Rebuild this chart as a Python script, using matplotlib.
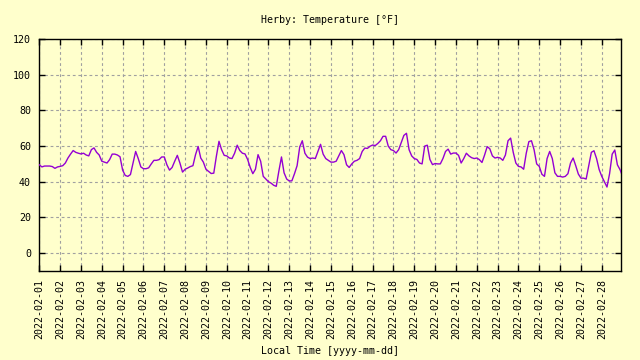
import numpy as np
import pandas as pd
import matplotlib
matplotlib.use("Agg")
import matplotlib.pyplot as plt
import matplotlib.dates as mdates

# 3-hourly temperature readings (°F), Feb 1 00:00 .. Feb 28 21:00
temps_f = [
    49.5, 48.3, 48.8, 48.8, 48.8, 48.5, 47.5, 48.3,   # 02-01
    48.6, 49.0, 50.5, 53.3, 55.5, 57.5, 56.5, 56.0,   # 02-02
    55.6, 56.0, 55.0, 54.5, 58.0, 59.0, 56.5, 55.0,   # 02-03
    51.5, 51.0, 50.5, 52.4, 55.5, 55.5, 55.0, 54.0,   # 02-04
    46.5, 43.5, 43.0, 44.0, 50.5, 57.0, 53.0, 48.3,   # 02-05
    47.3, 47.3, 47.8, 50.0, 52.0, 52.0, 52.4, 53.9,   # 02-06
    53.9, 49.5, 46.5, 48.0, 51.5, 54.8, 50.5, 45.4,   # 02-07
    47.0, 47.7, 48.5, 49.0, 55.2, 59.8, 53.3, 51.0,   # 02-08
    47.0, 45.8, 44.6, 44.8, 54.3, 62.7, 58.0, 54.8,   # 02-09
    54.5, 53.3, 53.0, 56.0, 60.5, 57.5, 56.0, 55.6,   # 02-10
    52.5, 48.0, 44.5, 47.0, 55.2, 51.5, 43.0, 41.5,   # 02-11
    40.0, 39.2, 38.0, 37.4, 46.0, 53.9, 45.0, 41.5,   # 02-12
    40.4, 40.5, 44.5, 49.0, 59.5, 63.0, 56.0, 53.8,   # 02-13
    53.0, 53.3, 53.0, 57.0, 61.0, 55.5, 53.0, 52.0,   # 02-14
    51.0, 51.0, 51.5, 54.5, 57.5, 55.2, 49.5, 48.0,   # 02-15
    50.0, 51.5, 52.0, 53.0, 57.0, 58.9, 58.7, 59.9,   # 02-16
    60.6, 60.3, 61.5, 63.0, 65.5, 65.5, 60.0, 58.0,   # 02-17
    57.5, 56.1, 58.0, 62.0, 66.0, 67.2, 58.0, 54.5,   # 02-18
    53.0, 52.5, 50.5, 50.0, 60.0, 60.5, 52.5, 49.6,   # 02-19
    50.2, 50.0, 50.0, 53.0, 57.0, 58.3, 55.5, 56.1,   # 02-20
    56.1, 54.8, 50.5, 53.0, 56.0, 54.5, 53.5, 53.0,   # 02-21
    53.3, 52.4, 50.8, 55.0, 59.7, 58.5, 54.5, 53.3,   # 02-22
    53.7, 53.3, 52.0, 55.0, 63.0, 64.5, 56.5, 50.5,   # 02-23
    48.6, 48.3, 47.0, 56.0, 62.5, 63.0, 58.0, 50.0,   # 02-24
    48.6, 44.2, 43.0, 53.0, 57.0, 53.0, 45.0, 43.0,   # 02-25
    43.0, 42.6, 43.0, 44.5, 50.5, 53.3, 49.0, 44.3,   # 02-26
    42.0, 42.0, 41.5, 49.0, 56.5, 57.4, 53.0, 46.8,   # 02-27
    43.0, 40.0, 37.0, 44.5, 55.5, 57.8, 49.5, 46.8,   # 02-28
]
last_time = "2022-02-28 22:30"
last_temp = 44.9

start = "2022-02-01 00:00"
times = list(pd.date_range(start, periods=len(temps_f), freq="3h")) + [pd.Timestamp(last_time)]
values = temps_f + [last_temp]

day_ticks = pd.date_range("2022-02-01", "2022-02-28", freq="D")
y_ticks = [0, 20, 40, 60, 80, 100, 120]

title = "Herby: Temperature [°F]"
xlabel = "Local Time [yyyy-mm-dd]"

bg = "#ffffcc"
line_color = "#9400d3"
font = "DejaVu Sans Mono"
fs = 7.2

plt.rcParams["font.family"] = [font, "DejaVu Sans"]

fig = plt.figure(figsize=(6.4, 3.6), dpi=100, facecolor=bg)
ax = fig.add_axes([39.3 / 640, 1 - 270.7 / 360, (621.3 - 39.3) / 640, (270.7 - 39.3) / 360])
ax.set_facecolor(bg)

ax.plot(times, values, color=line_color, lw=1.0, zorder=3)

ax.set_xlim(pd.Timestamp(start), pd.Timestamp(last_time))
ax.set_ylim(-10, 120)
ax.set_yticks(y_ticks)
ax.set_xticks(day_ticks)
ax.xaxis.set_major_formatter(mdates.DateFormatter("%Y-%m-%d"))

ax.grid(True, color="#a0a0a0", linestyle=(0, (2.5, 2.5)), linewidth=0.8)
ax.set_axisbelow(True)

ax.tick_params(axis="both", direction="in", length=4, width=1, color="black",
               labelsize=fs, top=True, right=True)
ax.tick_params(axis="x", pad=6, labelrotation=90)
ax.tick_params(axis="y", pad=6)
for lbl in ax.get_xticklabels():
    lbl.set_verticalalignment("top")

for s in ax.spines.values():
    s.set_color("black")
    s.set_linewidth(1.0)

fig.text(330 / 640, 1 - 20 / 360, title, ha="center", va="center", fontsize=fs)
fig.text(330 / 640, 1 - 351.5 / 360, xlabel, ha="center", va="center", fontsize=fs)

fig.savefig("out.png", dpi=100, facecolor=bg)
